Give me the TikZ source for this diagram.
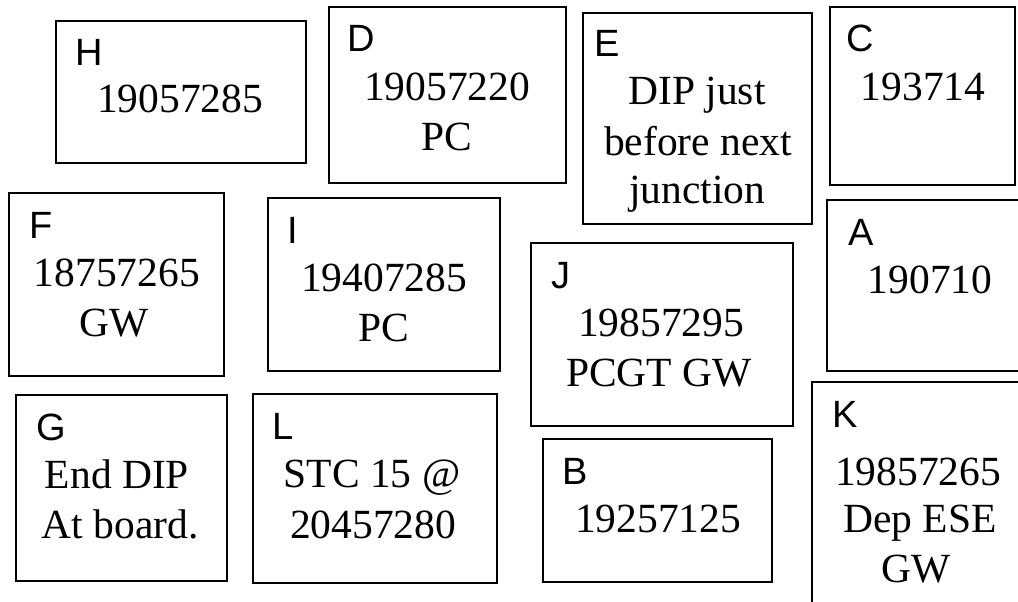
\documentclass[tikz,border=0pt]{standalone}
\usepackage{fontspec}
\setmainfont{Liberation Serif}
\setsansfont{Liberation Sans}
\usetikzlibrary{fit}
\tikzset{
  box/.style={draw=black, line width=1.5pt, inner sep=0pt},
  lab/.style={font=\sffamily\fontsize{38}{42}\selectfont, inner sep=0pt, anchor=base west},
  txt/.style={font=\fontsize{41.5}{48}\selectfont, inner sep=0pt, anchor=base},
}
\begin{document}
\begin{tikzpicture}[x=1pt,y=-1pt]
\useasboundingbox (0,0) rectangle (1018,602);
\clip (0,0) rectangle (1018,602);
% H
\node[box, fit={(56,21) (306,163)}] (bH) {};
\node[lab] (lH) at (75,66) {H};
\node[txt] (tH1) at (180,112) {19057285};
% D
\node[box, fit={(329,7) (566,183)}] (bD) {};
\node[lab] (lD) at (347,52) {D};
\node[txt] (tD1) at (447,100) {19057220};
\node[txt] (tD2) at (447,150) {PC};
% E
\node[box, fit={(583,13) (812,224)}] (bE) {};
\node[lab] (lE) at (594,57) {E};
\node[txt] (tE1) at (697,105) {DIP just};
\node[txt] (tE2) at (698,155) {before next};
\node[txt] (tE3) at (697,203) {junction};
% C
\node[box, fit={(830,7) (1015,185)}] (bC) {};
\node[lab] (lC) at (846,52) {C};
\node[txt] (tC1) at (923,100) {193714};
% F
\node[box, fit={(9,193) (224,376)}] (bF) {};
\node[lab] (lF) at (29,238) {F};
\node[txt] (tF1) at (117,286) {18757265};
\node[txt] (tF2) at (114,336) {GW};
% I
\node[box, fit={(268,198) (500,371)}] (bI) {};
\node[lab] (lI) at (287,243) {I};
\node[txt] (tI1) at (384,291) {19407285};
\node[txt] (tI2) at (384,341) {PC};
% J
\node[box, fit={(531,243) (793,426)}] (bJ) {};
\node[lab] (lJ) at (551,288) {J};
\node[txt] (tJ1) at (661,336) {19857295};
\node[txt] (tJ2) at (659,386) {PCGT GW};
% A
\node[box, fit={(827,200) (1040,371)}] (bA) {};
\node[lab] (lA) at (848,245) {A};
\node[txt] (tA1) at (930,293) {190710};
% G
\node[box, fit={(16,395) (227,581)}] (bG) {};
\node[lab] (lG) at (36,440) {G};
\node[txt] (tG1) at (117,488) {End DIP};
\node[txt] (tG2) at (120,538) {At board.};
% L
\node[box, fit={(253,394) (497,583)}] (bL) {};
\node[lab] (lL) at (272,439) {L};
\node[txt] (tL1) at (372,487) {STC 15 @};
\node[txt] (tL2) at (373,538) {20457280};
% B
\node[box, fit={(543,439) (772,582)}] (bB) {};
\node[lab] (lB) at (562,484) {B};
\node[txt] (tB1) at (658,532) {19257125};
% K
\node[box, fit={(812,382) (1040,640)}] (bK) {};
\node[lab] (lK) at (832,427) {K};
\node[txt] (tK1) at (918,485) {19857265};
\node[txt] (tK2) at (920,532) {Dep ESE};
\node[txt] (tK3) at (916,582) {GW};
\end{tikzpicture}
\end{document}
